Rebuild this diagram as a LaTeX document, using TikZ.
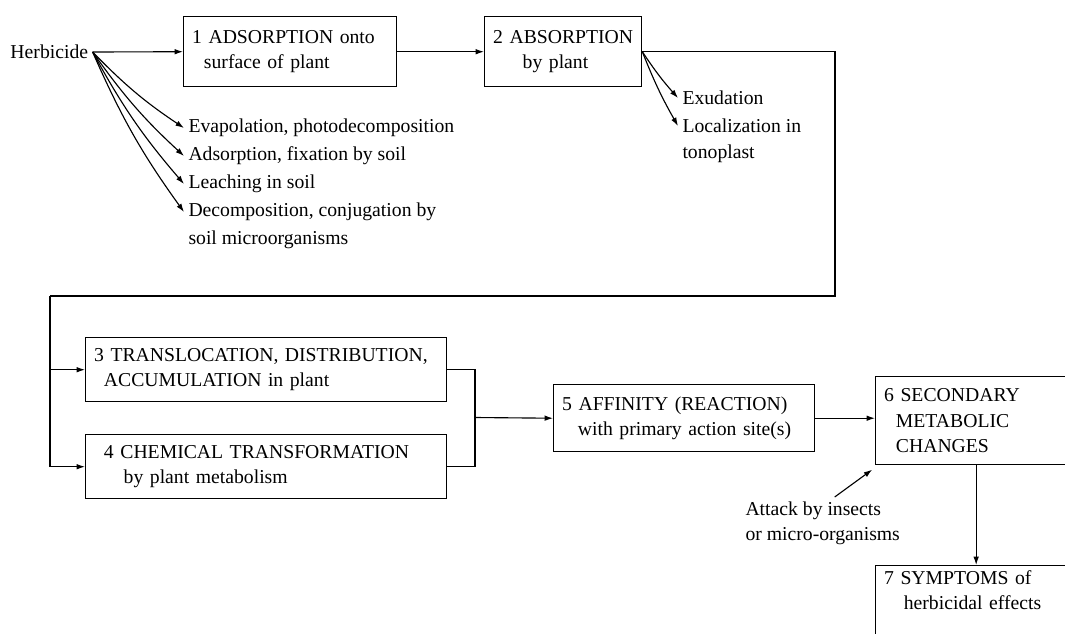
\documentclass[tikz,border=0pt]{standalone}
\usepackage{fontspec}
\setmainfont{Liberation Serif}
\usetikzlibrary{arrows.meta}

\begin{document}
\begin{tikzpicture}[x=0.025cm, y=-0.025cm,
    font=\fontsize{14}{18}\selectfont,
    stage/.style={draw, line width=1pt, anchor=north west, align=left, inner xsep=6pt},
    arr/.style={-{Latex[length=6pt,width=4pt]}, line width=0.8pt},
    link/.style={line width=0.9pt},
    note/.style={anchor=west, inner sep=3pt}
    ]
    \useasboundingbox (0,0) rectangle (1065,633);
    \clip (0,0) rectangle (1065,633);
    % top row
    \node[note] (herb) at (6,52) {Herbicide};
    \node[stage, text width=4.9cm, minimum height=1.75cm] (ads) at (183,16)
      {1 ADSORPTION onto\\\hspace*{0.6em}surface of plant};
    \node[stage, text width=3.5cm, minimum height=1.75cm] (abs) at (484,16)
      {\mbox{2 ABSORPTION}\\\hspace*{1.5em}by plant};
    % losses
    \node[note] (evap) at (184,128) {Evapolation, photodecomposition};
    \node[note] (fix) at (184,156) {Adsorption, fixation by soil};
    \node[note] (leach) at (184,184) {Leaching in soil};
    \node[note] (decomp) at (184,212) {Decomposition, conjugation by};
    \node[note] (micro) at (184,240) {soil microorganisms};
    \node[note] (exud) at (678,98) {Exudation};
    \node[note] (local) at (678,126) {Localization in};
    \node[note] (tono) at (678,154) {tonoplast};
    % middle row
    \node[stage, text width=8.6cm, minimum height=1.6cm] (trans) at (85,337)
      {3 TRANSLOCATION, DISTRIBUTION,\\\hspace*{0.5em}ACCUMULATION in plant};
    \node[stage, text width=8.6cm, minimum height=1.6cm] (chem) at (85,434)
      {\hspace*{0.5em}4 CHEMICAL TRANSFORMATION\\\hspace*{1.5em}by plant metabolism};
    \node[stage, text width=6.1cm, minimum height=1.675cm] (aff) at (553,384)
      {5 AFFINITY (REACTION)\\\hspace*{0.8em}with primary action site(s)};
    \node[stage, text width=4.6cm, minimum height=2.2cm] (sec) at (875,376)
      {6 SECONDARY\\\hspace*{0.6em}METABOLIC\\\hspace*{0.6em}CHANGES};
    \node[stage, text width=4.6cm] (sym) at (875,565)
      {7 SYMPTOMS of\\\hspace*{1em}herbicidal effects\\[14pt]\mbox{}};
    \node[note, anchor=north west, align=left] (attack) at (741,497)
      {Attack by insects\\or micro-organisms};
    % corners
    \coordinate (loopr) at (835,296);
    \coordinate (loopl) at (50,296);
    \coordinate (merge) at (475,417.5);
    % connectors
    \draw[arr] (herb.east) -- (ads.west);
    \draw[arr] (ads.east) -- (abs.west);
    \foreach \n in {evap, fix, leach, decomp}
      \draw[arr] (herb.east) to[bend right=6] (\n.west);
    \foreach \n in {exud, local}
      \draw[arr] (abs.east) to[bend right=4] (\n.west);
    \draw[link] (abs.east) -| (loopr) -- (loopl);
    \draw[arr] (loopl) |- (trans.west);
    \draw[arr] (loopl) |- (chem.west);
    \draw[link] (trans.east) -| (merge);
    \draw[link] (chem.east) -| (merge);
    \draw[arr] (merge) -- (aff.west);
    \draw[arr] (aff.east) -- (aff.east -| sec.west);
    \draw[arr] (sec.south) -- (sym.north);
    \draw[arr] ([xshift=0.3cm]attack.north) -- ([shift={(-2pt,-3pt)}]sec.south west);
  \end{tikzpicture}
\end{document}
